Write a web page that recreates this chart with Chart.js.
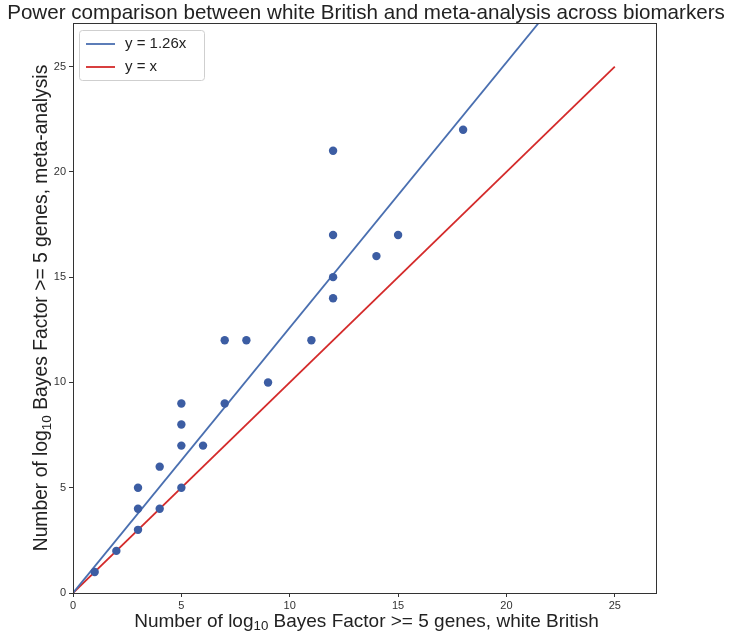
<!DOCTYPE html>
<html><head><meta charset="utf-8">
<script src="https://cdn.jsdelivr.net/npm/chart.js@4/dist/chart.umd.min.js"></script>
<style>html,body{margin:0;padding:0;background:#fff}#wrap{width:733px;height:636px}</style>
</head><body><div id="wrap"><canvas id="c" width="733" height="636"></canvas></div>
<script>
const whiteBritish = [1,2,3,3,3,4,4,5,5,5,5,6,7,7,8,9,11,12,12,12,12,14,15,18];
const metaAnalysis = [1,2,3,4,5,4,6,5,7,8,9,7,9,12,12,10,12,14,15,17,21,16,17,22];
const fitSlope = 1.26;
const lineX = [0, 25];
const xTicks = [0,5,10,15,20,25];
const yTicks = [0,5,10,15,20,25];
const titleText = 'Power comparison between white British and meta-analysis across biomarkers';
const xTitle = ['Number of log', '10', ' Bayes Factor >= 5 genes, white British'];
const yTitle = ['Number of log', '10', ' Bayes Factor >= 5 genes, meta-analysis'];
const legendLabels = ['y = 1.26x', 'y = x'];

const FONT = '"Liberation Sans", Arial, sans-serif';
const BLUE = '#4a6fb0';
const RED = '#d42a2a';
const DOT = '#3c5da3';

const scatterData = whiteBritish.map((x,i)=>({x, y: metaAnalysis[i]}));
const fitLine = lineX.map(x=>({x, y: fitSlope*x}));
const idLine = lineX.map(x=>({x, y: x}));

function drawSub(ctx, parts, size) {
  ctx.font = size + 'px ' + FONT;
  const w0 = ctx.measureText(parts[0]).width;
  ctx.font = (size*0.7) + 'px ' + FONT;
  const w1 = ctx.measureText(parts[1]).width;
  ctx.font = size + 'px ' + FONT;
  const w2 = ctx.measureText(parts[2]).width;
  const total = w0+w1+w2;
  let x = -total/2;
  ctx.textAlign='left'; ctx.textBaseline='middle';
  ctx.fillText(parts[0], x, 0);
  ctx.font = (size*0.7) + 'px ' + FONT;
  ctx.fillText(parts[1], x+w0, size*0.25);
  ctx.font = size + 'px ' + FONT;
  ctx.fillText(parts[2], x+w0+w1, 0);
}

const decor = {
  id:'decor',
  afterDraw(chart){
    const ctx = chart.ctx, a = chart.chartArea;
    ctx.save();
    ctx.strokeStyle='#333'; ctx.lineWidth=1;
    ctx.strokeRect(Math.round(a.left)+0.5, Math.round(a.top)+0.5, Math.round(a.right-a.left), Math.round(a.bottom-a.top));
    ctx.fillStyle='#222';
    ctx.font='20.6px '+FONT; ctx.textAlign='center'; ctx.textBaseline='middle';
    ctx.fillText(titleText, 366, 13);
    ctx.save(); ctx.translate((a.left+a.right)/2+2, 622); drawSub(ctx, xTitle, 19); ctx.restore();
    ctx.save(); ctx.translate(42, (a.top+a.bottom)/2); ctx.rotate(-Math.PI/2); drawSub(ctx, yTitle, 19.3); ctx.restore();
    const lx = a.left+6, ly = a.top+7;
    ctx.fillStyle='rgba(255,255,255,0.85)';
    ctx.strokeStyle='#cfcfcf'; ctx.lineWidth=1;
    ctx.beginPath(); ctx.roundRect(lx+0.5, ly+0.5, 125, 50, 3); ctx.fill(); ctx.stroke();
    const cols=[BLUE,RED];
    ctx.font='15px '+FONT; ctx.textAlign='left'; ctx.textBaseline='middle';
    for(let i=0;i<2;i++){
      const yy = ly+14+i*23;
      ctx.strokeStyle=cols[i]; ctx.lineWidth=1.8;
      ctx.beginPath(); ctx.moveTo(lx+7, yy); ctx.lineTo(lx+36, yy); ctx.stroke();
      ctx.fillStyle='#222'; ctx.fillText(legendLabels[i], lx+46, yy);
    }
    ctx.restore();
  }
};

new Chart(document.getElementById('c'), {
  type:'scatter',
  data:{datasets:[
    {type:'line', data:fitLine, borderColor:BLUE, borderWidth:1.8, pointRadius:0, fill:false, order:2},
    {type:'line', data:idLine, borderColor:RED, borderWidth:1.8, pointRadius:0, fill:false, order:2},
    {data:scatterData, backgroundColor:DOT, borderColor:DOT, pointRadius:4.2, borderWidth:0, order:1}
  ]},
  options:{
    responsive:false, animation:false, devicePixelRatio:1,
    layout:{padding:{left:43, top:23, right:77, bottom:23}},
    plugins:{legend:{display:false}, tooltip:{enabled:false}, title:{display:false}},
    scales:{
      x:{type:'linear', min:0, max:26.9,
        afterBuildTicks(s){ s.ticks = xTicks.map(v=>({value:v})); },
        afterFit(s){ s.height = 20; },
        border:{color:'#333', width:1},
        grid:{drawOnChartArea:false, drawTicks:true, tickLength:4, color:'#333'},
        ticks:{font:{family:FONT, size:11}, color:'#333', padding:2, maxRotation:0}
      },
      y:{type:'linear', min:0, max:27.07,
        afterBuildTicks(s){ s.ticks = yTicks.map(v=>({value:v})); },
        afterFit(s){ s.width = 30; },
        border:{color:'#333', width:1},
        grid:{drawOnChartArea:false, drawTicks:true, tickLength:4, color:'#333'},
        ticks:{font:{family:FONT, size:11}, color:'#333', padding:3}
      }
    }
  },
  plugins:[decor]
});
</script></body></html>
